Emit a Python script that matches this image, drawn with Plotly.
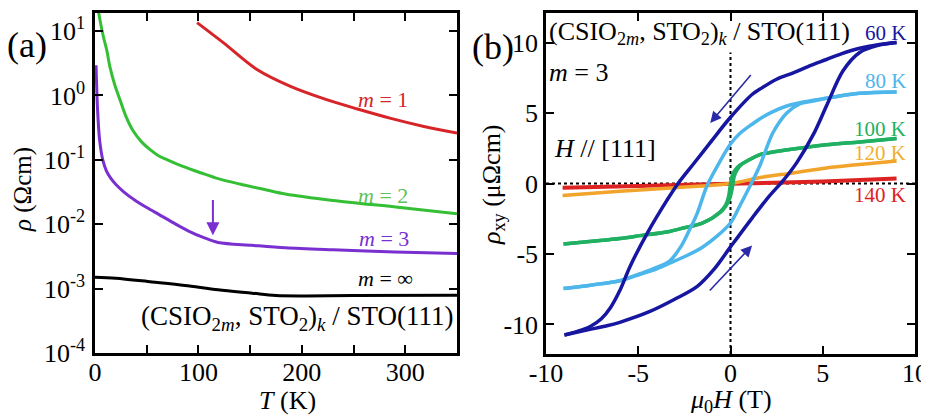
import plotly.graph_objects as go

FONT = "Liberation Serif"

# ---------------- Panel (a): rho vs T (log scale) ----------------
m1_T = [98.7, 124, 157, 189, 221, 253, 286, 318, 350]
m1_rho = [13.5, 6.6, 2.5, 1.38, 0.89, 0.62, 0.44, 0.33, 0.26]

m2_T = [2, 4.8, 8, 11.4, 14.5, 19, 24, 30, 37, 45, 53, 61, 70, 85, 102, 119, 140,
        166, 184, 230, 295, 350]
m2_rho = [28, 14.8, 8.3, 5.0, 2.75, 1.48, 0.87, 0.47, 0.28, 0.19, 0.145, 0.117, 0.10,
          0.079, 0.063, 0.051, 0.042, 0.034, 0.0295, 0.0234, 0.0182, 0.0145]

m3_T = [1, 2.5, 4.5, 7.5, 11, 15, 20, 28, 39, 50, 62, 75, 90, 104, 119, 152, 184,
        230, 290, 350]
m3_rho = [2.95, 0.59, 0.20, 0.10, 0.0676, 0.0525, 0.0417, 0.0316, 0.0234, 0.0182,
          0.0141, 0.0107, 0.0079, 0.0063, 0.0052, 0.0047, 0.0043, 0.0040, 0.0037,
          0.0035]

minf_T = [0, 20, 55, 87, 119, 152, 175, 250, 350]
minf_rho = [1.5e-3, 1.45e-3, 1.27e-3, 1.12e-3, 9.6e-4, 8.5e-4, 7.8e-4, 7.8e-4, 7.9e-4]

a_xticks = [0, 50, 100, 150, 200, 250, 300, 350]
a_xticktext = ["0", "", "100", "", "200", "", "300", ""]
a_yticks = [1e-4, 1e-3, 1e-2, 1e-1, 1, 10]
a_yticktext = ["10<sup>-4</sup>", "10<sup>-3</sup>", "10<sup>-2</sup>",
               "10<sup>-1</sup>", "10<sup>0</sup>", "10<sup>1</sup>"]

# ---------------- Panel (b): Hall loops ----------------
k60_up_H = [9, 8, 7, 6, 5.2, 4.2, 3.4, 2.5, 1.6, 1.2, 0, -1.1, -2.0, -2.9, -3.45,
            -4.5, -5.45, -6.0, -6.5, -7.0, -7.6, -8.3, -9.0]
k60_up_r = [10, 9.85, 9.6, 9.2, 8.8, 8.3, 7.85, 7.4, 6.7, 6.35, 4.7, 2.9, 1.4, -0.1,
            -1.2, -3.5, -5.9, -7.6, -8.8, -9.6, -10.15, -10.5, -10.75]
k60_dn_H = [-9, -7.8, -6.7, -6.0, -4.4, -3.0, -1.8, -0.9, 0, 1.2, 2.1, 2.85, 3.6,
            4.5, 5.2, 6.1, 7.0, 8.0, 9]
k60_dn_r = [-10.75, -10.4, -10.1, -9.85, -9.1, -8.2, -7.3, -6.1, -4.5, -2.4, -0.9,
            0.2, 1.5, 3.5, 5.5, 8.0, 9.3, 9.8, 10]

k80_up_H = [9, 7, 5.2, 4.0, 3.05, 2.3, 1.6, 1.0, 0.5, 0, -0.75, -1.3, -1.8, -2.3,
            -2.7, -3.3, -4.0, -4.9, -6.0, -7.5, -9.05]
k80_up_r = [6.5, 6.4, 6.05, 5.8, 5.5, 5.1, 4.6, 4.05, 3.55, 2.8, 1.15, -0.25, -2.1,
            -3.5, -4.5, -5.5, -5.95, -6.4, -6.9, -7.2, -7.45]
k80_dn_H = [-9.05, -7.5, -6.0, -4.9, -4.0, -3.3, -2.5, -1.5, -0.7, 0, 0.5, 1.05,
            1.6, 2.3, 3.05, 3.75, 4.5, 5.2, 7, 9]
k80_dn_r = [-7.45, -7.2, -6.9, -6.45, -6.05, -5.65, -5.2, -4.5, -3.7, -2.8, -1.6,
            -0.2, 1.3, 3.6, 5.0, 5.65, 5.85, 6.05, 6.4, 6.5]

k100_up_H = [9, 7, 5.2, 3.4, 2.15, 1.6, 0.9, 0.5, 0.25, 0.1, 0.0, -0.1, -0.25,
             -0.55, -1.5, -2.7, -3.3, -4.9, -6.0, -7.5, -9.05]
k100_up_r = [3.2, 2.95, 2.75, 2.45, 2.2, 2.05, 1.6, 1.3, 0.95, 0.6, 0.0, -0.9, -1.5,
             -2.0, -2.8, -3.2, -3.4, -3.7, -3.9, -4.1, -4.3]
k100_dn_H = [-9.05, -7.5, -6.0, -4.9, -3.3, -2.7, -1.5, -0.55, -0.25, -0.05, 0.1,
             0.2, 0.35, 0.6, 0.9, 1.6, 2.15, 3.4, 5.2, 7, 9]
k100_dn_r = [-4.3, -4.1, -3.9, -3.7, -3.4, -3.2, -2.8, -2.05, -1.6, -1.1, -0.3, 0.5,
             0.95, 1.35, 1.6, 2.05, 2.2, 2.45, 2.75, 2.95, 3.2]

k120_H = [-9.1, -6, -3, 0, 1.6, 3.4, 5.2, 7, 9]
k120_r = [-0.85, -0.55, -0.3, 0, 0.42, 0.75, 1.1, 1.35, 1.6]

k140_H = [-9.1, -5, 0, 5, 9]
k140_r = [-0.3, -0.18, -0.02, 0.15, 0.35]

b_ticks = [-10, -5, 0, 5, 10]
b_ticktext = ["-10", "-5", "0", "5", "10"]

# colours
C_M1, C_M2, C_M3, C_MINF = "#d62428", "#35bf35", "#7a2fd0", "#000000"
C60, C80, C100, C120, C140 = "#1616a0", "#4db6ea", "#1fb062", "#f2a32a", "#dd2222"

# page offset of the figure inside the browser window (body margin)
OFF = 8
W, H = 929, 416

def px(x):
    return (x - OFF) / W

def py(y):
    return 1 - (y - OFF) / H

fig = go.Figure()

def add(x, y, color, width, xa, ya, smooth=0.9):
    fig.add_trace(go.Scatter(x=x, y=y, mode="lines", xaxis=xa, yaxis=ya,
                             line=dict(color=color, width=width, shape="spline",
                                       smoothing=smooth),
                             showlegend=False, hoverinfo="skip"))

add(m1_T, m1_rho, C_M1, 3, "x", "y")
add(m2_T, m2_rho, C_M2, 3, "x", "y")
add(m3_T, m3_rho, C_M3, 3, "x", "y")
add(minf_T, minf_rho, C_MINF, 3, "x", "y")

add(k140_H, k140_r, C140, 4, "x2", "y2")
add(k120_H, k120_r, C120, 3.5, "x2", "y2")
add(k100_up_H, k100_up_r, C100, 3.5, "x2", "y2")
add(k100_dn_H, k100_dn_r, C100, 3.5, "x2", "y2")
add(k80_up_H, k80_up_r, C80, 3.5, "x2", "y2")
add(k80_dn_H, k80_dn_r, C80, 3.5, "x2", "y2")
add(k60_up_H, k60_up_r, C60, 3.5, "x2", "y2")
add(k60_dn_H, k60_dn_r, C60, 3.5, "x2", "y2")

axis_common = dict(showline=True, linewidth=2.5, linecolor="black", mirror="ticks",
                   ticks="inside", ticklen=8, tickwidth=2, tickcolor="black",
                   showgrid=False, zeroline=False, automargin=False,
                   tickfont=dict(family=FONT, size=26, color="black"))

fig.update_layout(
    template="none",
    width=W, height=H, margin=dict(l=0, r=0, t=0, b=0, pad=0),
    paper_bgcolor="white", plot_bgcolor="white",
    font=dict(family=FONT, color="black"),
    showlegend=False,
    xaxis=dict(domain=[px(95), px(457)], range=[0, 350], tickmode="array",
               tickvals=a_xticks, ticktext=a_xticktext, anchor="y",
               ticklabelstandoff=-6, **axis_common),
    yaxis=dict(domain=[py(353), py(13)], type="log", range=[-4, 1.28],
               tickmode="array", tickvals=a_yticks, ticktext=a_yticktext,
               anchor="x", ticklabelstandoff=2, **axis_common),
    xaxis2=dict(domain=[px(546), px(915)], range=[-10, 10], tickmode="array",
                tickvals=b_ticks, ticktext=b_ticktext, anchor="y2",
                ticklabelstandoff=-6, **axis_common),
    yaxis2=dict(domain=[py(354), py(13)], range=[-12.1, 12.1], tickmode="array",
                tickvals=b_ticks, ticktext=b_ticktext, anchor="x2",
                ticklabelstandoff=0, **axis_common),
)

# dotted zero lines in panel (b)
fig.add_shape(type="line", xref="x2", yref="y2", x0=0, x1=0, y0=-12.1, y1=9.3,
              line=dict(color="black", width=2, dash="dot"), layer="below")
fig.add_shape(type="line", xref="x2 domain", yref="y2", x0=0, x1=1, y0=0, y1=0,
              line=dict(color="black", width=2, dash="dot"), layer="below")

def txt(x, y, s, size, color="black", xref="x", yref="y", xanchor="left",
        yanchor="middle", angle=0):
    fig.add_annotation(x=x, y=y, xref=xref, yref=yref, text=s, showarrow=False,
                       xanchor=xanchor, yanchor=yanchor, textangle=angle,
                       font=dict(family=FONT, size=size, color=color))

# panel (a) texts
txt(px(5), py(45), "(a)", 36, xref="paper", yref="paper")
txt(px(23), py(190), "<i>ρ</i> (Ωcm)", 25, xref="paper", yref="paper",
    xanchor="center", angle=-90)
txt(px(287), py(400), "<i>T</i> (K)", 26, xref="paper", yref="paper",
    xanchor="center")
txt(252, -0.07, "<i>m</i> = 1", 22, color=C_M1)
txt(252, -1.55, "<i>m</i> = 2", 22, color="#5cc35c")
txt(253, -2.22, "<i>m</i> = 3", 22, color=C_M3)
txt(252, -2.85, "<i>m</i> = ∞", 22, color="black")
txt(349, -3.45, "(CSIO<sub>2<i>m</i></sub>, STO<sub>2</sub>)<sub><i>k</i></sub> / STO(111)",
    27, xanchor="right")

# panel (b) texts
txt(px(470), py(47), "(b)", 36, xref="paper", yref="paper")
txt(px(493), py(185), "<i>ρ</i><sub>xy</sub> (μΩcm)", 26, xref="paper",
    yref="paper", xanchor="center", angle=-90)
txt(px(731), py(401), "<i>μ</i><sub>0</sub><i>H</i> (T)", 26, xref="paper",
    yref="paper", xanchor="center")
txt(-9.95, 10.7, "(CSIO<sub>2<i>m</i></sub>, STO<sub>2</sub>)<sub><i>k</i></sub> / STO(111)",
    26, xref="x2", yref="y2")
txt(-9.95, 7.9, "<i>m</i> = 3", 26, xref="x2", yref="y2")
txt(-9.7, 2.5, "<i>H</i> // [111]", 26, xref="x2", yref="y2")
txt(9.6, 10.7, "60 K", 21, color=C60, xref="x2", yref="y2", xanchor="right")
txt(9.6, 7.3, "80 K", 21, color=C80, xref="x2", yref="y2", xanchor="right")
txt(9.6, 3.9, "100 K", 21, color=C100, xref="x2", yref="y2", xanchor="right")
txt(9.6, 2.15, "120 K", 21, color="#f0b030", xref="x2", yref="y2", xanchor="right")
txt(9.6, -0.8, "140 K", 21, color=C140, xref="x2", yref="y2", xanchor="right")

# arrows
fig.add_annotation(x=114, y=-2.17, ax=114, ay=-1.6, xref="x", yref="y",
                   axref="x", ayref="y", showarrow=True, arrowhead=2, arrowsize=1.3,
                   arrowwidth=2, arrowcolor=C_M3, text="")
fig.add_annotation(x=-1.1, y=4.3, ax=1.17, ay=7.8, xref="x2", yref="y2",
                   axref="x2", ayref="y2", showarrow=True, arrowhead=2, arrowsize=1.4,
                   arrowwidth=1.6, arrowcolor="#2a2aaa", text="")
fig.add_annotation(x=1.17, y=-4.4, ax=-1.2, ay=-7.7, xref="x2", yref="y2",
                   axref="x2", ayref="y2", showarrow=True, arrowhead=2, arrowsize=1.4,
                   arrowwidth=1.6, arrowcolor="#2a2aaa", text="")

fig.write_html("out.html")
